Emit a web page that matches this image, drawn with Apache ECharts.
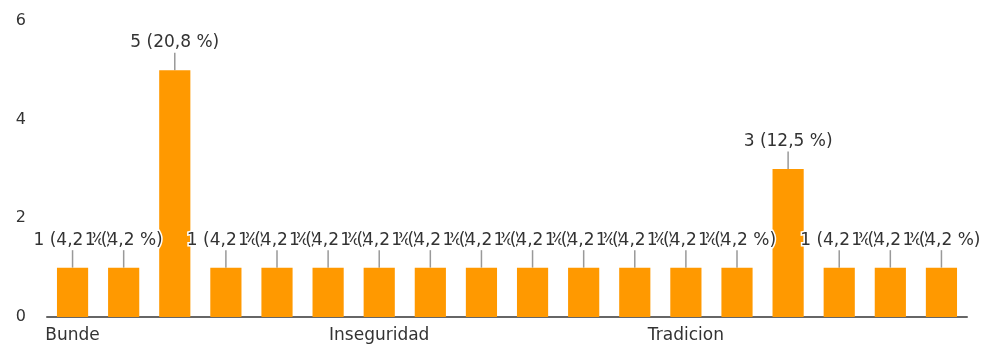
<!DOCTYPE html>
<html><head><meta charset="utf-8">
<script src="https://cdn.jsdelivr.net/npm/echarts@6/dist/echarts.min.js"></script>
<style>html,body{margin:0;padding:0;background:#fff}#c{width:990px;height:348px}</style>
</head><body><div id="c"></div>
<script>
const categories = ["Bunde","Categoría 2","Categoría 3","Categoría 4","Categoría 5","Categoría 6","Inseguridad","Categoría 8","Categoría 9","Categoría 10","Categoría 11","Categoría 12","Tradicion","Categoría 14","Categoría 15","Categoría 16","Categoría 17","Categoría 18"];
const counts = [1,1,5,1,1,1,1,1,1,1,1,1,1,1,3,1,1,1];
const yTicks = [0,2,4,6];
const total = counts.reduce((a,b)=>a+b,0);
const FONT = 'DejaVu Sans';
const chart = echarts.init(document.getElementById('c'));
chart.setOption({
  animation:false,
  grid:{left:47,right:23,top:21,bottom:31,containLabel:false},
  xAxis:{type:'category',data:categories,
    axisLine:{lineStyle:{color:'#666',width:2}},axisTick:{show:false},
    axisLabel:{interval:5,color:'#333',fontFamily:FONT,fontSize:17,margin:10}},
  yAxis:{type:'value',min:yTicks[0],max:yTicks[yTicks.length-1],interval:2,
    splitLine:{show:false},axisLine:{show:false},axisTick:{show:false},
    axisLabel:{color:'#333',fontFamily:FONT,fontSize:16,margin:21}},
  series:[{type:'bar',data:counts,barWidth:'61%',
    itemStyle:{color:'#ff9900'},
    label:{show:true,position:'top',distance:4,color:'#333',fontFamily:FONT,fontSize:17,
      textBorderColor:'#fff',textBorderWidth:3,
      formatter:p=>p.value+' ('+(p.value/total*100).toFixed(1).replace('.',',')+' %)'},
    labelLayout:{dy:-15,hideOverlap:false},
    labelLine:{show:true,lineStyle:{color:'#999',width:1.5}}
  }]
});
</script></body></html>
